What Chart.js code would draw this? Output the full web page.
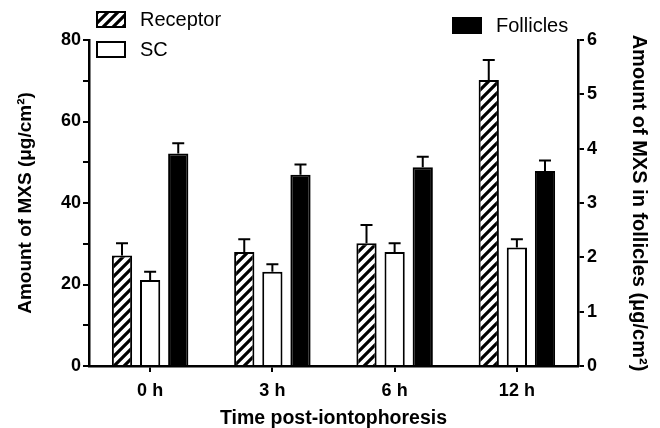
<!DOCTYPE html>
<html>
<head>
<meta charset="utf-8">
<script src="https://cdn.jsdelivr.net/npm/chart.js@4"></script>
<style>
  body { margin: 0; background: #fff; }
  #wrap { width: 660px; height: 428px; }
</style>
</head>
<body>
<div id="wrap"><canvas id="myChart"></canvas></div>
<script>
const times = ["0 h", "3 h", "6 h", "12 h"];
const receptor = [27.1, 28.0, 30.1, 70.2];
const receptorErr = [3.0, 3.1, 4.5, 4.9];
const sc = [21.1, 23.1, 28.0, 29.1];
const scErr = [2.0, 1.9, 2.1, 2.0];
const follicles = [3.91, 3.52, 3.66, 3.59];
const folliclesErr = [0.19, 0.19, 0.19, 0.19];

const font = "'Liberation Sans', Arial, sans-serif";

// diagonal hatch for the receptor bars
function makeHatch() {
    const s = 10;
    const c = document.createElement('canvas');
    c.width = s; c.height = s;
    const g = c.getContext('2d');
    g.fillStyle = '#fff';
    g.fillRect(0, 0, s, s);
    g.strokeStyle = '#000';
    g.lineWidth = 3.2;
    g.beginPath();
    g.moveTo(0, s); g.lineTo(s, 0);
    g.moveTo(-2, 2); g.lineTo(2, -2);
    g.moveTo(s - 2, s + 2); g.lineTo(s + 2, s - 2);
    g.stroke();
    return g.createPattern(c, 'repeat');
}
const hatch = makeHatch();

const errorBars = {
    id: 'errorBars',
    afterDatasetsDraw(chart) {
        const ctx = chart.ctx;
        ctx.save();
        ctx.strokeStyle = '#000';
        ctx.lineWidth = 2;
        chart.data.datasets.forEach((ds, i) => {
            const meta = chart.getDatasetMeta(i);
            const scale = chart.scales[ds.yAxisID];
            meta.data.forEach((bar, j) => {
                const yTop = scale.getPixelForValue(ds.data[j] + ds.errors[j]);
                ctx.beginPath();
                ctx.moveTo(bar.x, bar.y);
                ctx.lineTo(bar.x, yTop);
                ctx.moveTo(bar.x - 6, yTop);
                ctx.lineTo(bar.x + 6, yTop);
                ctx.stroke();
            });
        });
        ctx.restore();
    }
};

const legendBoxes = {
    id: 'legendBoxes',
    afterDraw(chart) {
        const ctx = chart.ctx;
        const items = [
            { ds: 0, x: 97, y: 12 },
            { ds: 1, x: 97, y: 42 },
            { ds: 2, x: 453, y: 18 }
        ];
        ctx.save();
        ctx.font = '20px ' + font;
        ctx.textBaseline = 'middle';
        items.forEach(it => {
            const ds = chart.data.datasets[it.ds];
            ctx.fillStyle = ds.backgroundColor;
            ctx.fillRect(it.x, it.y, 28, 15);
            ctx.strokeStyle = '#000';
            ctx.lineWidth = 2;
            ctx.strokeRect(it.x, it.y, 28, 15);
            ctx.fillStyle = '#000';
            ctx.fillText(ds.label, it.x + 43, it.y + 8.5);
        });
        ctx.restore();
    }
};

const tickFont = { family: font, size: 18, weight: 'bold' };

new Chart(document.getElementById('myChart'), {
    type: 'bar',
    data: {
        labels: times,
        datasets: [
            {
                label: 'Receptor',
                data: receptor,
                errors: receptorErr,
                yAxisID: 'y',
                backgroundColor: hatch,
                borderColor: '#000',
                borderWidth: 2
            },
            {
                label: 'SC',
                data: sc,
                errors: scErr,
                yAxisID: 'y',
                backgroundColor: '#fff',
                borderColor: '#000',
                borderWidth: 2
            },
            {
                label: 'Follicles',
                data: follicles,
                errors: folliclesErr,
                yAxisID: 'y2',
                backgroundColor: '#000',
                borderColor: '#000',
                borderWidth: 2
            }
        ]
    },
    options: {
        responsive: true,
        maintainAspectRatio: false,
        animation: false,
        categoryPercentage: 0.69,
        barPercentage: 0.72,
        layout: { padding: { top: 40, left: 0, right: 0, bottom: 0 } },
        plugins: {
            legend: { display: false },
            tooltip: { enabled: false }
        },
        scales: {
            x: {
                afterFit(scale) { scale.height = 62; },
                border: { display: true, color: '#000', width: 2.5 },
                grid: { offset: false, drawOnChartArea: false, drawTicks: true, tickLength: 6, color: '#000', lineWidth: 2 },
                ticks: { color: '#000', font: tickFont, padding: 8 },
                title: {
                    display: true,
                    text: 'Time post-iontophoresis',
                    color: '#000',
                    font: { family: font, size: 19.5, weight: 'bold' },
                    padding: { top: 0, bottom: -2 }
                }
            },
            y: {
                position: 'left',
                min: 0,
                max: 80,
                afterFit(scale) { scale.width = 89; },
                border: { display: true, color: '#000', width: 2.5 },
                grid: { drawOnChartArea: false, drawTicks: true, tickLength: 6, color: '#000', lineWidth: 2 },
                ticks: {
                    stepSize: 10,
                    color: '#000',
                    font: tickFont,
                    padding: 2,
                    callback: v => (v % 20 === 0 ? v : '')
                },
                title: {
                    display: true,
                    text: 'Amount of MXS (\u03bcg/cm\u00b2)',
                    color: '#000',
                    font: { family: font, size: 19, weight: 'bold' },
                    padding: { top: 14, bottom: 0 }
                }
            },
            y2: {
                position: 'right',
                min: 0,
                max: 6,
                afterFit(scale) { scale.width = 82; },
                border: { display: true, color: '#000', width: 2.5 },
                grid: { drawOnChartArea: false, drawTicks: true, tickLength: 6, color: '#000', lineWidth: 2 },
                ticks: { stepSize: 1, color: '#000', font: tickFont, padding: 3 },
                title: {
                    display: true,
                    text: 'Amount of MXS in follicles (\u03bcg/cm\u00b2)',
                    color: '#000',
                    font: { family: font, size: 20, weight: 'bold' },
                    padding: { top: 9, bottom: 0 }
                }
            }
        }
    },
    plugins: [errorBars, legendBoxes]
});
</script>
</body>
</html>
